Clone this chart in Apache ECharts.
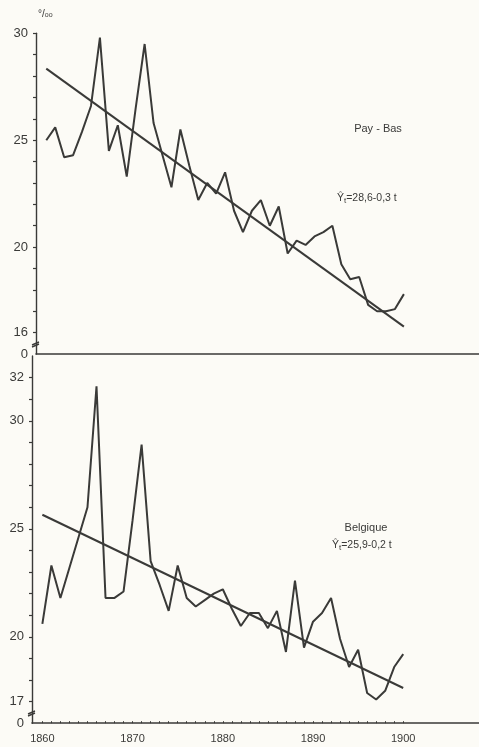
<!DOCTYPE html>
<html><head><meta charset="utf-8">
<script src="https://cdn.jsdelivr.net/npm/echarts@6/dist/echarts.min.js"></script>
<style>html,body{margin:0;padding:0;background:#fcfbf6;}#c{width:479px;height:747px;}</style>
</head><body><div id="c"></div>
<script>
// ---- data ----
const years = [1860,1861,1862,1863,1864,1865,1866,1867,1868,1869,
               1870,1871,1872,1873,1874,1875,1876,1877,1878,1879,
               1880,1881,1882,1883,1884,1885,1886,1887,1888,1889,
               1890,1891,1892,1893,1894,1895,1896,1897,1898,1899,1900];
const paysBas = [25.0,25.6,24.2,24.3,25.4,26.6,29.8,24.5,25.7,23.3,
                 26.5,29.5,25.8,24.3,22.8,25.5,23.8,22.2,23.0,22.5,
                 23.5,21.7,20.7,21.7,22.2,21.0,21.9,19.7,20.3,20.1,
                 20.5,20.7,21.0,19.2,18.5,18.6,17.3,17.0,17.0,17.1,17.8];
const belgique = [20.6,23.3,21.8,23.2,24.6,26.0,31.6,21.8,21.8,22.1,
                  25.4,28.9,23.5,22.4,21.2,23.3,21.8,21.4,21.7,22.0,
                  22.2,21.3,20.5,21.1,21.1,20.4,21.2,19.3,22.6,19.5,
                  20.7,21.1,21.8,19.9,18.6,19.4,17.4,17.1,17.5,18.6,19.2];
const trendYears = [1860, 1900];
const trendPaysBas = [28.35, 16.28];
const trendBelgique = [25.65, 17.63];
const xLabelYears = [1860,1870,1880,1890,1900];
const topTicks = [16,17,18,19,20,21,22,23,24,25,26,27,28,29,30];
const topLabels = [15,16,20,25,30];      // 15 is the broken-axis "0"
const botTicks = [17,18,19,20,21,22,23,24,25,26,27,28,29,30,31,32];
const botLabels = [16,17,20,25,30,32];   // 16 is the broken-axis "0"

const ink = '#3a3a38';
const font = 'Liberation Sans';
const pair = (xs, ys) => xs.map((x, i) => [x, ys[i]]);

const chart = echarts.init(document.getElementById('c'), null, {renderer: 'canvas'});
const xBase = {
  type: 'value', min: 1858.85, max: 1908.4,
  splitLine: {show: false},
  axisLine: {show: true, onZero: false, lineStyle: {color: ink, width: 1.6}}
};
const yBase = {
  type: 'value', splitLine: {show: false},
  axisLine: {show: true, onZero: false, lineStyle: {color: ink, width: 1.4}},
  axisTick: {show: true, length: 3, inside: false, lineStyle: {color: ink, width: 1.2}}
};
chart.setOption({
  backgroundColor: '#fcfbf6',
  animation: false,
  grid: [
    {left: 36, right: 0, top: 33.3, height: 320.7},
    {left: 32, right: 0, top: 356, height: 367.2}
  ],
  xAxis: [
    Object.assign({}, xBase, {gridIndex: 0, axisTick: {show: false}, axisLabel: {show: false}}),
    Object.assign({}, xBase, {gridIndex: 1,
      axisTick: {show: true, inside: true, length: 2, customValues: years, lineStyle: {color: ink, width: 1}},
      axisLabel: {show: true, customValues: xLabelYears, margin: 10, color: ink, fontSize: 11, fontFamily: font,
        formatter: v => String(v)}})
  ],
  yAxis: [
    Object.assign({}, yBase, {gridIndex: 0, min: 15, max: 30,
      axisTick: Object.assign({}, yBase.axisTick, {customValues: topTicks}),
      axisLabel: {show: true, customValues: topLabels, margin: 8, color: ink, fontSize: 13, fontFamily: font,
        formatter: v => v === 15 ? '0' : String(v)}}),
    Object.assign({}, yBase, {gridIndex: 1, min: 16, max: 33,
      axisTick: Object.assign({}, yBase.axisTick, {customValues: botTicks}),
      axisLabel: {show: true, customValues: botLabels, margin: 8, color: ink, fontSize: 13, fontFamily: font,
        formatter: v => v === 16 ? '0' : String(v)}})
  ],
  series: [
    {type: 'line', xAxisIndex: 0, yAxisIndex: 0, data: pair(years, paysBas), symbol: 'none',
     lineStyle: {color: ink, width: 2}},
    {type: 'line', xAxisIndex: 0, yAxisIndex: 0, data: pair(trendYears, trendPaysBas), symbol: 'none',
     lineStyle: {color: ink, width: 2}},
    {type: 'line', xAxisIndex: 1, yAxisIndex: 1, data: pair(years, belgique), symbol: 'none',
     lineStyle: {color: ink, width: 2}},
    {type: 'line', xAxisIndex: 1, yAxisIndex: 1, data: pair(trendYears, trendBelgique), symbol: 'none',
     lineStyle: {color: ink, width: 2}}
  ],
  graphic: [
    {type: 'text', left: 38, top: 9, style: {text: '{a|°/}{b|oo}', fill: ink,
      rich: {a: {fontSize: 10, fontFamily: font, fill: ink}, b: {fontSize: 7, fontFamily: font, fill: ink, padding: [3,0,0,0]}}}},
    {type: 'text', x: 378, y: 129, style: {text: 'Pay - Bas', fill: ink, fontSize: 11, fontFamily: font,
      textAlign: 'center', textVerticalAlign: 'middle'}},
    {type: 'text', x: 337, y: 192, style: {text: '{a|Ŷ}{s|t}{a|=28,6-0,3 t}', fill: ink,
      rich: {a: {fontSize: 10.5, fontFamily: font, fill: ink}, s: {fontSize: 8, fontFamily: font, fill: ink, padding: [5,0,0,0]}}}},
    {type: 'text', x: 366, y: 528, style: {text: 'Belgique', fill: ink, fontSize: 11, fontFamily: font,
      textAlign: 'center', textVerticalAlign: 'middle'}},
    {type: 'text', x: 332, y: 539, style: {text: '{a|Ŷ}{s|t}{a|=25,9-0,2 t}', fill: ink,
      rich: {a: {fontSize: 10.5, fontFamily: font, fill: ink}, s: {fontSize: 8, fontFamily: font, fill: ink, padding: [5,0,0,0]}}}},
    {type: 'line', shape: {x1: 32, y1: 345, x2: 39, y2: 342}, style: {stroke: ink, lineWidth: 1.4}},
    {type: 'line', shape: {x1: 32, y1: 347, x2: 39, y2: 344}, style: {stroke: ink, lineWidth: 1.4}},
    {type: 'line', shape: {x1: 28, y1: 714, x2: 35, y2: 711}, style: {stroke: ink, lineWidth: 1.4}},
    {type: 'line', shape: {x1: 28, y1: 716, x2: 35, y2: 713}, style: {stroke: ink, lineWidth: 1.4}}
  ]
});
</script>
</body></html>
